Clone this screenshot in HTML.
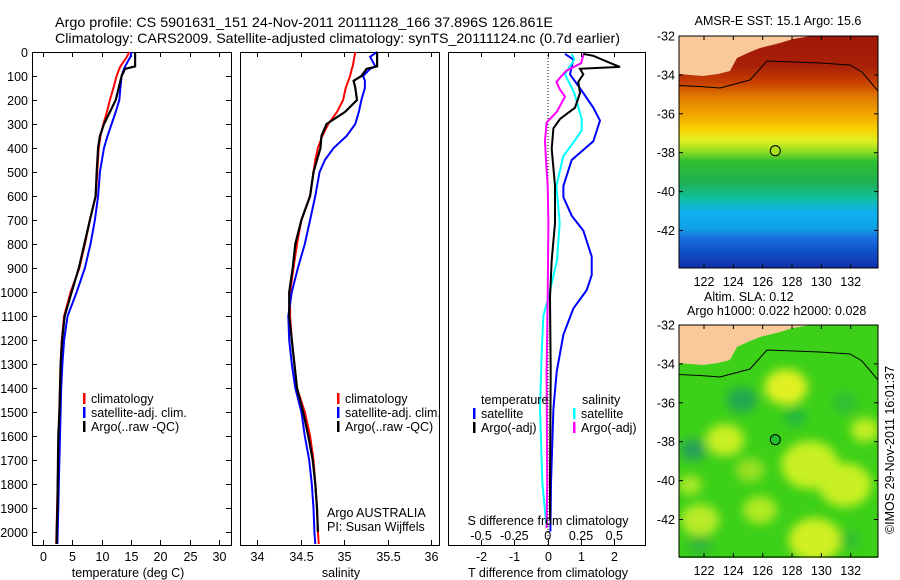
<!DOCTYPE html>
<html><head><meta charset="utf-8"><style>
html,body{margin:0;padding:0;background:#fff}
svg{display:block;font-family:"Liberation Sans",sans-serif}
text{font-size:12.5px;fill:#000}
</style></head><body>
<svg id="fig" width="900" height="580" viewBox="0 0 900 580" xmlns="http://www.w3.org/2000/svg">
<defs>
<linearGradient id="sstGrad" x1="0" y1="0" x2="0" y2="1">
<stop offset="0" stop-color="#a01808"/><stop offset="0.13" stop-color="#a82008"/>
<stop offset="0.20" stop-color="#c84000"/><stop offset="0.26" stop-color="#e07800"/>
<stop offset="0.33" stop-color="#f0a000"/><stop offset="0.40" stop-color="#f8d000"/>
<stop offset="0.45" stop-color="#e0f020"/><stop offset="0.49" stop-color="#a0e020"/>
<stop offset="0.54" stop-color="#30c030"/><stop offset="0.63" stop-color="#20b050"/>
<stop offset="0.70" stop-color="#10c0a0"/><stop offset="0.76" stop-color="#10b0f0"/>
<stop offset="0.83" stop-color="#10a0e8"/><stop offset="0.87" stop-color="#1870e0"/>
<stop offset="0.93" stop-color="#1050c8"/><stop offset="1" stop-color="#1030a8"/>
</linearGradient>
<filter id="blur" x="-50%" y="-50%" width="200%" height="200%"><feGaussianBlur stdDeviation="5"/></filter>
<clipPath id="clipM1"><rect x="679" y="36" width="199" height="232"/></clipPath>
<clipPath id="clipM2"><rect x="679" y="325" width="199" height="233"/></clipPath>
</defs>
<text x="55" y="27" style="font-size:14px" textLength="498" lengthAdjust="spacingAndGlyphs">Argo profile: CS 5901631_151 24-Nov-2011 20111128_166 37.896S 126.861E</text>
<text x="55" y="43" style="font-size:14px" textLength="565" lengthAdjust="spacingAndGlyphs">Climatology: CARS2009. Satellite-adjusted climatology: synTS_20111124.nc (0.7d earlier)</text>
<g id="plots"></g>
</svg>
<script>
// ---- data ----
const tDepth = [0,20,60,70,100,150,200,250,300,350,400,500,600,700,800,900,1000,1100,1200,1300,1400,1500,1600,1700,1800,1900,2000,2050];
const tClim  = [14.7,14.3,13.2,13.0,12.55,12.0,11.4,10.9,10.3,9.8,9.5,9.25,9.0,8.0,7.15,6.2,4.7,3.6,3.2,3.0,2.9,2.8,2.7,2.6,2.5,2.4,2.3,2.25];
const tSat   = [15.1,14.9,14.0,13.8,13.4,13.2,13.0,12.4,11.7,11.0,10.4,9.7,9.4,8.85,8.1,7.15,5.75,4.2,3.6,3.3,3.1,3.0,2.9,2.8,2.7,2.6,2.5,2.45];
const tArgo  = [15.7,15.7,15.7,14.0,13.4,12.9,12.4,11.4,10.4,9.7,9.4,9.15,8.97,8.0,7.05,6.1,4.9,3.7,3.25,3.0,2.9,2.8,2.6,2.55,2.5,2.45,2.33,2.33];
const sDepth = [0,20,60,70,100,120,150,200,250,300,350,400,450,500,600,700,800,900,1000,1100,1200,1300,1400,1500,1600,1700,1800,1900,2000,2050];
const sClim  = [35.13,35.12,35.10,35.09,35.07,35.05,35.02,34.99,34.92,34.82,34.75,34.70,34.67,34.65,34.61,34.51,34.46,34.42,34.38,34.38,34.40,34.43,34.46,34.55,34.61,34.65,34.67,34.69,34.70,34.71];
const sSat   = [35.38,35.30,35.36,35.30,35.22,35.24,35.24,35.20,35.17,35.13,35.03,34.88,34.78,34.72,34.67,34.61,34.55,34.47,34.40,34.36,34.37,34.40,34.44,34.51,34.55,34.60,34.63,34.65,34.66,34.67];
const sArgo  = [35.38,35.38,35.38,35.26,35.20,35.11,35.13,35.15,35.01,34.80,34.74,34.73,34.69,34.65,34.61,34.51,34.44,34.41,34.37,34.37,34.40,34.43,34.46,34.53,34.59,34.64,34.67,34.69,34.70,34.70];
const dDepthT = [8,31,93,171,232,286,372,450,558,605,682,744,852,930,992,1069,1178,1332,1487,1797,1998];
const dTSat   = [0.52,0.77,0.67,1.07,1.37,1.57,1.37,0.72,0.47,0.47,0.72,1.07,1.32,1.32,1.17,0.77,0.47,0.27,0.17,0.10,0.08];
const dDepthA = [8,16,47,62,70,93,124,171,232,279,318,403,558,713,868,1023,1332,1797,1952];
const dTArgo  = [1.07,1.37,1.9,2.17,0.97,1.07,0.92,0.97,0.82,0.37,0.17,0.12,0.22,0.22,0.12,0.07,0.09,0.07,0.07];
const dDepthS = [8,31,93,171,279,326,356,434,558,713,868,1023,1100,1255,1487,1797,1983];
const dSSat   = [0.18,0.2,0.13,0.2,0.255,0.255,0.22,0.117,0.065,0.09,0.07,0.005,-0.033,-0.045,-0.058,-0.04,-0.008];
const dDepthM = [8,47,78,124,155,186,248,294,372,480,558,713,1023,1332,1797,1983];
const dSArgo  = [0.27,0.25,0.14,0.065,0.09,0.13,0.07,-0.008,-0.02,-0.01,0.0,0.005,0.0,-0.008,-0.004,-0.008];
const depthTicks = [0,100,200,300,400,500,600,700,800,900,1000,1100,1200,1300,1400,1500,1600,1700,1800,1900,2000];
const tTicks = [0,5,10,15,20,25,30];
const sTicks = [34,34.5,35,35.5,36];
const dTTicks = [-2,-1,0,1,2];
const dSTicks = [-0.5,-0.25,0,0.25,0.5];
const dSTickLabels = ['-0.5','-0.25','0','0.25','0.5'];
const latTicks = [-32,-34,-36,-38,-40,-42];
const lonTicks = [122,124,126,128,130,132];
const argoPos = [126.861,-37.896];

// ---- helpers ----
const NS='http://www.w3.org/2000/svg';
const root=document.getElementById('plots');
function mk(tag,attrs,parent){const e=document.createElementNS(NS,tag);for(const k in attrs)e.setAttribute(k,attrs[k]);(parent||root).appendChild(e);return e;}
function txt(s,x,y,anchor,parent,name){const t=mk('text',{x:x,y:y,'text-anchor':anchor||'start'},parent);t.textContent=s;


return t;}
const TOP=52,BOT=545;
const yD=d=>TOP+d*0.24;
function linScale(d0,d1,r0,r1){return v=>r0+(v-d0)/(d1-d0)*(r1-r0);}

function panel(name,x0,x1){
  const g=mk('g',{});
  
  
  const r=mk('rect',{x:x0+0.5,y:TOP+0.5,width:x1-x0,height:BOT-TOP,fill:'none',stroke:'#000','stroke-width':1},g);
  
  
  return g;
}
function line(g,xs,ds,sx,color,w,name){
  const pts=xs.map((v,i)=>sx(v).toFixed(1)+','+yD(ds[i]).toFixed(1)).join(' ');
  const p=mk('polyline',{points:pts,fill:'none',stroke:color,'stroke-width':w,'stroke-linejoin':'miter'},g);
  
  
}
function xTicks(g,ticks,labels,sx,yLab,name){
  ticks.forEach((t,i)=>{const x=Math.round(sx(t))+0.5;
    mk('line',{x1:x,x2:x,y1:TOP,y2:TOP+5,stroke:'#000'},g);
    mk('line',{x1:x,x2:x,y1:BOT,y2:BOT-5,stroke:'#000'},g);
    if(yLab) txt(labels[i],x,yLab,'middle',g,name);});
}
function legendEntry(g,x,y,color,label){
  const m=mk('rect',{x:x,y:y-10,width:2.5,height:11,fill:color},g);
  
  
  txt(label,x+8,y,'start',g,'legend-entry');
}

// ---- panel 1: temperature ----
const g1=panel('temperature-panel',32,231);
const sxT=linScale(0,30,43,219);
depthTicks.forEach(d=>{const y=Math.round(yD(d))+0.5;
  mk('line',{x1:32,x2:37,y1:y,y2:y,stroke:'#000'},g1);
  mk('line',{x1:231,x2:226,y1:y,y2:y,stroke:'#000'},g1);
  txt(String(d),28,y+4.5,'end',g1,'depth-tick-label');});
xTicks(g1,tTicks,tTicks.map(String),sxT,561,'temperature-tick-label');
line(g1,tClim,tDepth,sxT,'#ff0000',2,'temperature-climatology-line');
line(g1,tSat,tDepth,sxT,'#0000ff',2,'temperature-satellite-line');
line(g1,tArgo,tDepth,sxT,'#000000',2.2,'temperature-argo-line');
txt('temperature (deg C)',128,577,'middle',g1,'x-axis-title-temperature');
legendEntry(g1,83,403,'#ff0000','climatology');
legendEntry(g1,83,417,'#0000ff','satellite-adj. clim.');
legendEntry(g1,83,431,'#000000','Argo(..raw -QC)');

// ---- panel 2: salinity ----
const g2=panel('salinity-panel',240,439);
const sxS=linScale(34,36,257,431);
xTicks(g2,sTicks,sTicks.map(String),sxS,561,'salinity-tick-label');
line(g2,sClim,sDepth,sxS,'#ff0000',2,'salinity-climatology-line');
line(g2,sSat,sDepth,sxS,'#0000ff',2,'salinity-satellite-line');
line(g2,sArgo.slice(0,29),sDepth.slice(0,29),sxS,'#000000',2.2,'salinity-argo-line');
txt('salinity',341,577,'middle',g2,'x-axis-title-salinity');
legendEntry(g2,337,403,'#ff0000','climatology');
legendEntry(g2,337,417,'#0000ff','satellite-adj. clim.');
legendEntry(g2,337,431,'#000000','Argo(..raw -QC)');
txt('Argo AUSTRALIA',327,517,'start',g2,'credit-argo-australia');
txt('PI: Susan Wijffels',327,531,'start',g2,'credit-pi');

// ---- panel 3: differences ----
const g3=panel('difference-panel',448,645);
const sxD=linScale(0,2,547.7,614.3);
const sxDS=linScale(0,0.5,547.7,614.3);
xTicks(g3,dTTicks,dTTicks.map(String),sxD,561,'t-diff-tick-label');
dSTicks.forEach((t,i)=>txt(dSTickLabels[i],sxDS(t),540,'middle',g3,'s-diff-tick-label'));
const zl=mk('line',{x1:548,x2:548,y1:TOP,y2:BOT,stroke:'#000','stroke-dasharray':'1,2'},g3);


line(g3,dTSat,dDepthT,sxD,'#0000ff',2,'t-diff-satellite-line');
line(g3,dSSat,dDepthS,sxDS,'#00ffff',2,'s-diff-satellite-line');
line(g3,dSArgo,dDepthM,sxDS,'#ff00ff',2,'s-diff-argo-line');
line(g3,dTArgo,dDepthA,sxD,'#000000',2,'t-diff-argo-line');
txt('temperature',481,404,'start',g3,'legend-title-temperature');
txt('salinity',582,404,'start',g3,'legend-title-salinity');
legendEntry(g3,473,418,'#0000ff','satellite');
legendEntry(g3,473,432,'#000000','Argo(-adj)');
legendEntry(g3,573,418,'#00ffff','satellite');
legendEntry(g3,573,432,'#ff00ff','Argo(-adj)');
txt('S difference from climatology',548,525,'middle',g3,'s-diff-axis-title');
txt('T difference from climatology',548,577,'middle',g3,'t-diff-axis-title');

// ---- maps ----
const lonX=linScale(122,132,704,850.7);
const latY=lat=>(-32-lat)*19.45;
const landPts=[[679,36],[679,74],[690,75],[703,76],[718,74],[730,71],[737,58],[750,52],[760,48],[780,43],[793,39],[817,35]];
const contourPts=[[679,85.5],[700,86.5],[720,88],[750,80],[767,61],[820,63],[850,65],[862,72],[878,91]];
function map(name,top,bgFn,title){
  const g=mk('g',{});
  
  
  const c=mk('g',{'clip-path':'url(#clipM'+(top<100?1:2)+')'},g);
  bgFn(c,top);
  const dy=top-36;
  const land=mk('polygon',{points:landPts.map(p=>p[0]+','+(p[1]+dy)).join(' ')+' 878,'+(35+dy)+' 878,'+(top-2),fill:'#f9c99a'},c);
  
  
  const ct=mk('polyline',{points:contourPts.map(p=>p[0]+','+(p[1]+dy)).join(' '),fill:'none',stroke:'#000','stroke-width':1},c);
  
  
  const fr=mk('rect',{x:679,y:top,width:199,height:232,fill:'none',stroke:'#000'},g);
  
  
  latTicks.forEach(l=>{const y=top+latY(l);
    mk('line',{x1:679,x2:683,y1:y,y2:y,stroke:'#000'},g);mk('line',{x1:878,x2:874,y1:y,y2:y,stroke:'#000'},g);
    txt(String(l),675,y+4.5,'end',g,'latitude-tick-label');});
  lonTicks.forEach(l=>{const x=lonX(l);
    mk('line',{x1:x,x2:x,y1:top,y2:top+4,stroke:'#000'},g);mk('line',{x1:x,x2:x,y1:top+232,y2:top+228,stroke:'#000'},g);
    txt(String(l),x,top+250,'middle',g,'longitude-tick-label');});
  const mk2=mk('circle',{cx:lonX(argoPos[0]),cy:top+latY(argoPos[1]),r:5,fill:title.fill,stroke:'#000','stroke-width':1},g);
  
  
}
map('sst-map',36,(c,top)=>{mk('rect',{x:679,y:top,width:199,height:232,fill:'url(#sstGrad)'},c);},{fill:'#a8e020'});
map('sla-map',325,(c,top)=>{
  mk('rect',{x:679,y:top,width:199,height:233,fill:'#3cd018'},c);
  const b=mk('g',{filter:'url(#blur)'},c);
  [[786,62,18,'#e0f020'],[725,115,16,'#c8f020'],[810,140,24,'#c8f020'],[845,160,22,'#c8f020'],[815,215,22,'#d0f020'],[700,195,16,'#b8ec28'],[865,105,12,'#c0ee20'],[760,185,14,'#b0ea20'],[690,160,10,'#a8e828'],[750,145,12,'#98e020']]
   .forEach(p=>mk('ellipse',{cx:p[0],cy:top+p[1],rx:p[2]*1.2,ry:p[2],fill:p[3]},b));
  [[742,75,13,'#20a850'],[693,125,11,'#28a058'],[795,92,9,'#20b840'],[845,78,11,'#30c030'],[700,220,10,'#30b838'],[850,215,9,'#30c030']]
   .forEach(p=>mk('ellipse',{cx:p[0],cy:top+p[1],rx:p[2]*1.2,ry:p[2],fill:p[3]},b));
},{fill:'#20c030'});
txt('AMSR-E SST: 15.1 Argo: 15.6',778,25,'middle',null,'sst-map-title');
txt('Altim. SLA: 0.12',704,301,'start',null,'sla-map-title-1');
txt('Argo h1000: 0.022 h2000: 0.028',687,315,'start',null,'sla-map-title-2');
const cr=txt('©IMOS 29-Nov-2011 16:01:37',0,0,'middle',null,'timestamp-credit');
cr.setAttribute('transform','translate(894,450) rotate(-90)');
</script>
</body></html>
